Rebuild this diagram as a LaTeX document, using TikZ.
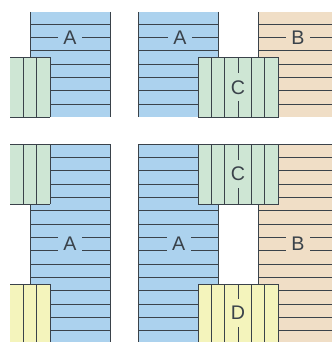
\documentclass[tikz,border=0pt]{standalone}
\usepackage{fontspec}
\setmainfont{Liberation Sans}
\usepackage{tikz}
\definecolor{wallblue}{RGB}{172,210,238}
\definecolor{wallbeige}{RGB}{240,222,198}
\definecolor{wallgreen}{RGB}{206,230,212}
\definecolor{wallyellow}{RGB}{244,244,188}
\definecolor{joint}{RGB}{58,66,74}
\tikzset{
  rule/.style={color=joint, line width=0.9pt},
  hlabel/.style={inner sep=0pt, minimum width=0.9cm, minimum height=0.6cm,
    font=\fontsize{21}{21}\selectfont, text=joint},
  vlabel/.style={inner sep=0pt, minimum width=0.6cm, minimum height=1.05cm,
    font=\fontsize{21}{21}\selectfont, text=joint}
}

\begin{document}
\begin{tikzpicture}[x=0.5cm, y=-0.5cm]
  \useasboundingbox (0,0) rectangle (24.9,25.65);

  % top left: wall A with a short green piece
  \fill[wallblue] (2.25,0.9) rectangle (8.25,8.8);
  \foreach \y in {1.8,2.8,3.8,4.8,5.8,6.8,7.8}
    \draw[rule] (2.25,\y) -- (8.25,\y);
  \draw[rule] (2.25,0.9) -- (2.25,4.3);
  \draw[rule] (8.25,0.9) -- (8.25,8.8);
  \fill[wallgreen] (0.75,4.3) rectangle (3.75,8.8);
  \foreach \x in {1.75,2.75,3.75}
    \draw[rule] (\x,4.3) -- (\x,8.8);
  \draw[rule] (0.75,4.3) -- (3.75,4.3);
  \draw[rule] (0.75,8.8) -- (3.75,8.8);
  \node[hlabel, fill=wallblue] (a1) at (5.25,2.8) {A};

  % top right: walls A and B joined by C
  \fill[wallblue] (10.35,0.9) rectangle (16.35,8.8);
  \fill[wallbeige] (19.35,0.9) rectangle (24.9,8.8);
  \foreach \y in {1.8,2.8,3.8,4.8,5.8,6.8,7.8} {
    \draw[rule] (10.35,\y) -- (16.35,\y);
    \draw[rule] (19.35,\y) -- (24.9,\y);
  }
  \draw[rule] (10.35,0.9) -- (10.35,8.8);
  \draw[rule] (16.35,0.9) -- (16.35,4.3);
  \draw[rule] (19.35,0.9) -- (19.35,4.3);
  \filldraw[rule, fill=wallgreen] (14.85,4.3) rectangle (20.85,8.8);
  \foreach \x in {15.85,16.85,17.85,18.85,19.85}
    \draw[rule] (\x,4.3) -- (\x,8.8);
  \node[hlabel, fill=wallblue] (a2) at (13.5,2.8) {A};
  \node[hlabel, fill=wallbeige] (b2) at (22.35,2.8) {B};
  \node[vlabel, fill=wallgreen] (c2) at (17.85,6.55) {C};

  % bottom left: wall A with green and yellow pieces
  \fill[wallblue] (2.25,10.8) rectangle (8.25,25.65);
  \foreach \y in {11.8,12.8,...,24.8}
    \draw[rule] (2.25,\y) -- (8.25,\y);
  \draw[rule] (0.75,10.8) -- (8.25,10.8);
  \draw[rule] (2.25,15.3) -- (2.25,21.3);
  \draw[rule] (8.25,10.8) -- (8.25,25.65);
  \fill[wallgreen] (0.75,10.8) rectangle (3.75,15.3);
  \fill[wallyellow] (0.75,21.3) rectangle (3.75,25.65);
  \foreach \x in {1.75,2.75,3.75} {
    \draw[rule] (\x,10.8) -- (\x,15.3);
    \draw[rule] (\x,21.3) -- (\x,25.65);
  }
  \draw[rule] (0.75,10.8) -- (3.75,10.8);
  \draw[rule] (0.75,15.3) -- (3.75,15.3);
  \draw[rule] (0.75,21.3) -- (3.75,21.3);
  \node[hlabel, fill=wallblue] (a3) at (5.25,18.3) {A};

  % bottom right: walls A and B with C above and D below
  \fill[wallblue] (10.35,10.8) rectangle (16.35,25.65);
  \fill[wallbeige] (19.35,10.8) rectangle (24.9,25.65);
  \foreach \y in {11.8,12.8,...,24.8} {
    \draw[rule] (10.35,\y) -- (16.35,\y);
    \draw[rule] (19.35,\y) -- (24.9,\y);
  }
  \draw[rule] (10.35,10.8) -- (24.9,10.8);
  \draw[rule] (10.35,10.8) -- (10.35,25.65);
  \draw[rule] (16.35,15.3) -- (16.35,21.3);
  \draw[rule] (19.35,15.3) -- (19.35,21.3);
  \filldraw[rule, fill=wallgreen] (14.85,10.8) rectangle (20.85,15.3);
  \fill[wallyellow] (14.85,21.3) rectangle (20.85,25.65);
  \draw[rule] (14.85,25.65) -- (14.85,21.3) -- (20.85,21.3) -- (20.85,25.65);
  \foreach \x in {15.85,16.85,17.85,18.85,19.85} {
    \draw[rule] (\x,10.8) -- (\x,15.3);
    \draw[rule] (\x,21.3) -- (\x,25.65);
  }
  \node[hlabel, fill=wallblue] (a4) at (13.4,18.3) {A};
  \node[hlabel, fill=wallbeige] (b4) at (22.35,18.3) {B};
  \node[vlabel, fill=wallgreen] (c4) at (17.85,13.05) {C};
  \node[vlabel, fill=wallyellow] (d4) at (17.85,23.47) {D};
\end{tikzpicture}
\end{document}
